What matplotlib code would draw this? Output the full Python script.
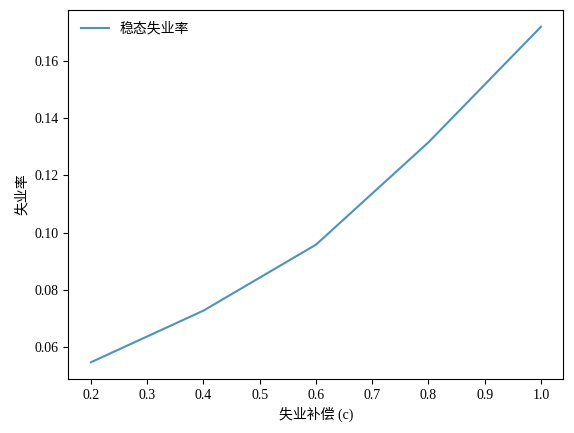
import numpy as np
import matplotlib
matplotlib.use('Agg')
import matplotlib.pyplot as plt

# data
c_values = [0.2, 0.4, 0.6, 0.8, 1.0]
unemp_rate = [0.0548, 0.0728, 0.0958, 0.1315, 0.1718]

plt.rcParams['font.family'] = ['Liberation Serif', 'Noto Sans CJK SC', 'DejaVu Sans']
plt.rcParams['axes.unicode_minus'] = False

fig, ax = plt.subplots(figsize=(5.74, 4.33), dpi=100)
fig.subplots_adjust(left=0.1193, right=0.9817, top=0.977, bottom=0.1247)

ax.plot(c_values, unemp_rate, color='C0', alpha=0.8, label='稳态失业率')
ax.set_xlabel('失业补偿 (c)')
ax.set_ylabel('失业率')
ax.legend(loc='upper left', frameon=False)

plt.savefig('out.png', dpi=100)
